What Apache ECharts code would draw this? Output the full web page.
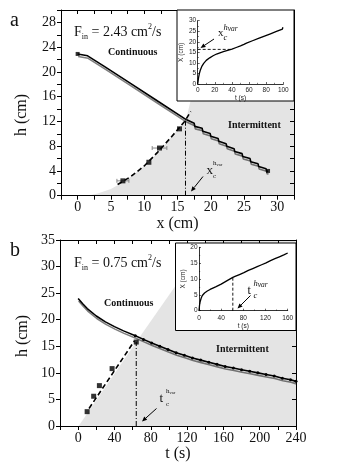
<!DOCTYPE html>
<html>
<head>
<meta charset="utf-8">
<script src="https://cdn.jsdelivr.net/npm/echarts@6/dist/echarts.min.js"></script>
<style>
html,body{margin:0;padding:0;background:#fff}
#main{width:338px;height:473px}
</style>
</head>
<body>
<div id="main"></div>
<script>
// panel a : h vs x, F_in = 2.43
const aContinuous = [[0,22.9],[0.2,22.6],[1.5,22.6],[4,20.9],[8,18.1],[12,15.3],[16.3,12.3]];
const aIntermittent = [[16.3,12.3],[17.5,11.7],[17.6,11.2],[18.7,10.9],[18.8,10.4],[19.9,10.05],[20.0,9.6],
  [21.1,9.25],[21.2,8.8],[22.3,8.4],[22.4,8.0],[23.5,7.6],[23.6,7.15],[24.7,6.8],[24.8,6.35],
  [25.9,6.0],[26.0,5.5],[27.1,5.15],[27.2,4.7],[28.3,4.35],[28.4,3.9],[28.6,4.0]];
const aEnds = [[0,22.9],[28.6,4.0]];
const aPoints = [[6.8,2.4],[10.7,5.4],[12.3,7.7],[15.3,10.8]];
const aErr = [[6.8,2.4,0.9],[12.3,7.7,1.1]];
const aFit = [[6,1.8],[8,3.1],[10,4.8],[12,7.0],[14,9.4],[16,11.9],[17,13.6]];
const aBoundary = [[1.5,0],[3,0.35],[5,1.1],[7,2.3],[9,3.9],[11,5.8],[13,8.1],[15,10.7],[16.3,12.3],[17,15.5],[17.5,30],[32.5,30]];
const aCrit = [[16.2,0],[16.2,12.3]];
// inset a : X vs t
const iaCurve = [[0,0],[0.5,1.5],[1,3],[2,5],[3,6.5],[5,8.5],[7,9.8],[10,11.2],[14,12.4],[18,13.4],[22,14.2],
  [26,14.8],[30,15.3],[35,15.9],[40,16.5],[45,17.3],[50,18.1],[54,18.8],[56,19.3],[57,19.4],[57.5,20.3],
  [64,20.5],[64.5,21.4],[71,21.6],[71.5,22.5],[78,22.7],[78.5,23.6],[85,23.8],[85.5,24.7],[92,24.9],
  [92.5,25.8],[99,26.0],[99.5,26.9],[100,27.0]];
const iaCrit = [[0,16.4],[39,16.4]];

// panel b : h vs t, F_in = 0.75
const bContinuous = [[0,24.0],[5,23.0],[10,22.1],[20,20.7],[30,19.6],[40,18.7],[50,17.9],[63,17.0]];
const bIntermittent = [[63,17.0],[72,16.3],[81,15.6],[90,15.0],[99,14.4],[108,13.8],[117,13.3],[126,12.8],
  [135,12.4],[144,12.0],[153,11.6],[162,11.2],[171,10.9],[180,10.6],[189,10.3],[198,10.0],[207,9.7],
  [216,9.4],[225,9.0],[234,8.7],[240,8.4]];
const bPoints = [[9.9,2.7],[17.1,5.6],[23.4,7.6],[37.4,10.8],[64,15.8]];
const bFit = [[12,3.3],[62,16.0]];
const bBoundary = [[0.5,0],[64,15.8],[142.5,35],[240,35]];
const bCrit = [[64,0],[64,15.8]];
// inset b
const ibCurve = [[0,0],[1,1.8],[2,2.8],[4,4.0],[6,4.8],[10,5.6],[15,6.2],[20,6.7],[30,7.5],[40,8.4],[50,9.4],
  [61,10.5],[65,10.8],[66,11.3],[73,11.4],[74,11.9],[81,12.0],[82,12.5],[89,12.7],[90,13.1],[97,13.3],
  [98,13.7],[105,13.9],[106,14.4],[113,14.5],[114,15.0],[121,15.1],[122,15.6],[129,15.8],[130,16.2],
  [137,16.4],[138,16.8],[145,17.0],[146,17.5],[153,17.6],[154,18.1],[160,18.2]];
const ibCrit = [[61,0],[61,10.5]];

const serif = 'Liberation Serif', sans = 'Liberation Sans';

function mainX(grid, min, max, interval, fmt, name, gap) {
  return {type:'value', gridIndex:grid, min, max, interval, position:'bottom', z:2.5,
    name, nameLocation:'middle', nameGap:gap,
    nameTextStyle:{fontFamily:serif, fontSize:16, color:'#111'},
    axisLine:{onZero:false, lineStyle:{color:'#000', width:1}},
    axisTick:{inside:false, length:4, lineStyle:{color:'#000'}},
    axisLabel:{formatter:fmt, fontFamily:serif, fontSize:14, color:'#111', margin:5},
    splitLine:{show:false}};
}
function mainY(grid, min, max, interval, fmt) {
  return {type:'value', gridIndex:grid, min, max, interval, position:'left', z:2.5,
    axisLine:{onZero:false, lineStyle:{color:'#000', width:1}},
    axisTick:{inside:false, length:4, lineStyle:{color:'#000'}},
    axisLabel:{formatter:fmt, fontFamily:serif, fontSize:14, color:'#111', margin:5},
    splitLine:{show:false}};
}
function mirror(grid, min, max, interval, pos, len) {
  return {type:'value', gridIndex:grid, min, max, interval, position:pos, z:2.5,
    axisLine:{onZero:false, lineStyle:{color:'#000', width:1}},
    axisTick:{inside:true, length:len, lineStyle:{color:'#000'}},
    axisLabel:{show:false}, splitLine:{show:false}};
}
function insetX(grid, min, max, interval, margin, gap) {
  return {type:'value', gridIndex:grid, min, max, interval, position:'bottom', z:4,
    name:'t (s)', nameLocation:'middle', nameGap:gap,
    nameTextStyle:{fontFamily:sans, fontSize:6.5, color:'#222'},
    axisLine:{onZero:false, lineStyle:{color:'#000', width:0.8}},
    axisTick:{inside:true, length:2, lineStyle:{color:'#000', width:0.6}},
    minorTick:{show:true, splitNumber:2, length:1.2, lineStyle:{color:'#000', width:0.5}},
    axisLabel:{fontFamily:sans, fontSize:6.5, color:'#222', margin:margin},
    splitLine:{show:false}};
}
function insetY(grid, min, max, interval, gap) {
  return {type:'value', gridIndex:grid, min, max, interval, position:'left', z:4,
    name:'X (cm)', nameLocation:'middle', nameGap:gap, nameRotate:90,
    nameTextStyle:{fontFamily:sans, fontSize:6.5, color:'#222'},
    axisLine:{onZero:false, lineStyle:{color:'#000', width:0.8}},
    axisTick:{inside:true, length:2, lineStyle:{color:'#000', width:0.6}},
    minorTick:{show:true, splitNumber:2, length:1.2, lineStyle:{color:'#000', width:0.5}},
    axisLabel:{fontFamily:sans, fontSize:6.5, color:'#222', margin:1.5},
    splitLine:{show:false}};
}

const doubleLine = {color:'#000', width:1.6, shadowColor:'rgba(0,0,0,0.5)', shadowOffsetY:2.5, shadowOffsetX:0.5, shadowBlur:0.5};
function line(xi, data, style, z, extra) {
  return Object.assign({type:'line', xAxisIndex:xi, yAxisIndex:xi, data, showSymbol:false,
    symbol:'none', lineStyle:style, z:z || 2, silent:true, animation:false}, extra || {});
}
function area(xi, data) {
  return {type:'line', xAxisIndex:xi, yAxisIndex:xi, data, showSymbol:false, symbol:'none',
    lineStyle:{width:0}, areaStyle:{color:'#e4e4e4', opacity:1}, z:1, animation:false};
}
function dots(xi, data, size) {
  return {type:'scatter', xAxisIndex:xi, yAxisIndex:xi, data, symbol:'rect', symbolSize:size,
    itemStyle:{color:'#000'}, z:3, animation:false};
}
const errBars = {type:'custom', xAxisIndex:0, yAxisIndex:0, data:aErr, z:2, encode:{x:0, y:1},
  renderItem:(params, api) => {
    const l = api.coord([api.value(0) - api.value(2), api.value(1)]);
    const r = api.coord([api.value(0) + api.value(2), api.value(1)]);
    const st = {stroke:'#888', lineWidth:1};
    return {type:'group', children:[
      {type:'line', shape:{x1:l[0], y1:l[1], x2:r[0], y2:r[1]}, style:st},
      {type:'line', shape:{x1:l[0], y1:l[1]-2, x2:l[0], y2:l[1]+2}, style:st},
      {type:'line', shape:{x1:r[0], y1:r[1]-2, x2:r[0], y2:r[1]+2}, style:st}]};
  }};

function arrow(x1, y1, x2, y2) {
  const a = Math.atan2(y2 - y1, x2 - x1), L = 5, W = 2.2;
  const bx = x2 - L * Math.cos(a), by = y2 - L * Math.sin(a);
  const px = -Math.sin(a) * W, py = Math.cos(a) * W;
  return [
    {type:'line', z:10, shape:{x1, y1, x2:bx, y2:by}, style:{stroke:'#000', lineWidth:1}},
    {type:'polygon', z:10, shape:{points:[[x2,y2],[bx+px,by+py],[bx-px,by-py]]}, style:{fill:'#000'}}];
}
function txt(x, y, text, size, opts) {
  return {type:'text', x, y, z:10, style:Object.assign({text, fontFamily:serif, fontSize:size,
    fill:'#111', verticalAlign:'middle', align:'left'}, opts || {})};
}
function fin(x, y, val) {
  return {type:'text', x, y, z:10, style:{
    text:'{m|F}{s|in}{m| = ' + val + ' cm}{p|2}{m|/s}', verticalAlign:'middle', align:'left',
    rich:{
      m:{fontFamily:serif, fontSize:14, fill:'#111', lineHeight:18},
      s:{fontFamily:serif, fontSize:8, fill:'#111', lineHeight:8, verticalAlign:'bottom'},
      p:{fontFamily:serif, fontSize:8, fill:'#111', lineHeight:8, verticalAlign:'top'}}}};
}
// x_c^{h_var} style label: main letter, sub c, sup h, small var
function critLabel(x, y, letter, big, small, tiny, italic) {
  const st = italic ? 'italic' : 'normal';
  return [
    txt(x, y, letter, big),
    txt(x + big * 0.5, y + big * 0.42, 'c', small, {fontStyle:st}),
    txt(x + big * 0.5, y - big * 0.55, 'h', small, {fontStyle:st}),
    txt(x + big * 0.5 + small * 0.5, y - big * 0.42, 'var', tiny, {fontStyle:st})];
}

const chart = echarts.init(document.getElementById('main'), null, {renderer:'canvas'});
chart.setOption({
  animation:false,
  backgroundColor:'#fff',
  grid:[
    {left:61, top:10, width:233, height:185.7},
    {left:197.7, top:20.7, width:85.6, height:63.3},
    {left:60, top:240, width:236, height:186},
    {left:199, top:247.3, width:88.7, height:63.4}],
  xAxis:[
    mainX(0, -2.5, 32.5, 2.5, v => (v >= 0 && v % 5 === 0) ? String(v) : '', 'x (cm)', 19),
    insetX(1, 0, 100, 20, 3, 7),
    mainX(2, -20, 240, 20, v => (v >= 0 && v % 40 === 0) ? String(v) : '', 't (s)', 16),
    insetX(3, 0, 160, 40, 4.5, 8),
    mirror(0, -2.5, 32.5, 2.5, 'top', 4),
    mirror(1, 0, 100, 20, 'top', 2),
    mirror(2, -20, 240, 20, 'top', 4),
    mirror(3, 0, 160, 40, 'top', 2)],
  yAxis:[
    mainY(0, 0, 30, 2, v => (v % 4 === 0) ? String(v) : ''),
    insetY(1, 0, 30, 5, 8),
    mainY(2, 0, 35, 5, v => String(v)),
    insetY(3, 0, 20, 5, 11),
    mirror(0, 0, 30, 2, 'right', 4),
    mirror(1, 0, 30, 5, 'right', 2),
    mirror(2, 0, 35, 5, 'right', 4),
    mirror(3, 0, 20, 5, 'right', 2)],
  series:[
    area(0, aBoundary),
    line(0, aFit, {color:'#000', width:1.6, type:[5,3]}),
    line(0, aCrit, {color:'#000', width:1, type:[5,2,1,2]}),
    line(0, aContinuous, doubleLine),
    line(0, aIntermittent, doubleLine),
    errBars,
    dots(0, aPoints, 5),
    dots(0, aEnds, 4),
    line(1, iaCurve, {color:'#000', width:1.3}, 5),
    line(1, iaCrit, {color:'#000', width:0.9, type:[3,2]}, 5),
    area(2, bBoundary),
    line(2, bFit, {color:'#000', width:1.6, type:[5,3]}),
    line(2, bCrit, {color:'#000', width:1, type:[5,2,1,2]}),
    line(2, bContinuous, doubleLine),
    line(2, bIntermittent, doubleLine, 2, {showSymbol:true, symbol:'circle', symbolSize:3,
      itemStyle:{color:'#000'}}),
    dots(2, bPoints, 5),
    line(3, ibCurve, {color:'#000', width:1.3}, 5),
    line(3, ibCrit, {color:'#000', width:0.9, type:[3,2]}, 5)],
  graphic:[
    {type:'rect', z:3, shape:{x:177, y:10, width:117, height:91}, style:{fill:'#fff', stroke:'#000', lineWidth:1}},
    {type:'rect', z:3, shape:{x:175.5, y:243, width:120.5, height:87.5}, style:{fill:'#fff', stroke:'#000', lineWidth:1}},
    txt(10, 21, 'a', 20),
    txt(10, 251, 'b', 20),
    {type:'text', x:22, y:115, z:10, rotation:Math.PI / 2,
      style:{text:'h (cm)', fontFamily:serif, fontSize:16, fill:'#111', align:'center', verticalAlign:'middle'}},
    {type:'text', x:23, y:336, z:10, rotation:Math.PI / 2,
      style:{text:'h (cm)', fontFamily:serif, fontSize:16, fill:'#111', align:'center', verticalAlign:'middle'}},
    fin(74, 32, '2.43'),
    fin(74, 263, '0.75'),
    txt(108, 52, 'Continuous', 10, {fontWeight:'bold'}),
    txt(228, 125, 'Intermittent', 10, {fontWeight:'bold'}),
    txt(104, 303, 'Continuous', 10, {fontWeight:'bold'}),
    txt(216, 349, 'Intermittent', 10, {fontWeight:'bold'}),
    ...critLabel(206.5, 170.5, 'x', 13, 7, 4.5, false),
    ...critLabel(159.5, 398.5, 't', 13, 7, 4.5, false),
    ...critLabel(218, 33.5, 'x', 11, 8.5, 7.5, true),
    ...critLabel(247.5, 290.5, 't', 12, 8.5, 7.5, true),
    ...arrow(214, 39, 200.5, 48),
    ...arrow(203, 176.5, 191, 191.5),
    ...arrow(250.5, 295.5, 237.5, 308.5),
    ...arrow(156.5, 408.5, 142, 421.5)]
});
</script>
</body>
</html>
